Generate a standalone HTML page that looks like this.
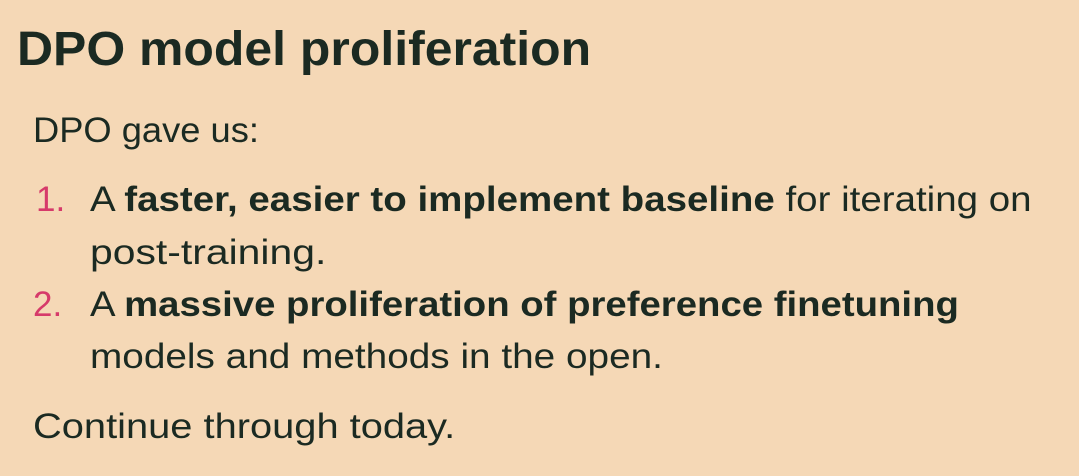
<!DOCTYPE html>
<html><head><meta charset="utf-8"><style>
html,body{margin:0;padding:0}
body{width:1079px;height:476px;background:#f5d8b6;font-family:"Liberation Sans",sans-serif;color:#1b2a22;position:relative;overflow:hidden}
.l{position:absolute;white-space:nowrap;font-size:35px;line-height:40px;transform-origin:0 50%}
b{font-weight:bold}
.n{color:#d63a6a}
</style></head><body>
<div class="l" style="left:17px;top:22px;font-size:48px;line-height:56px;font-weight:bold;transform:scaleX(1.04)">DPO model proliferation</div>
<div class="l" style="left:33px;top:111px;transform:scaleX(1.037)">DPO gave us:</div>
<div class="l" style="left:36px;top:180px;"><span class="n">1.</span></div>
<div class="l" style="left:90px;top:180px;transform:scaleX(1.10)">A <b>faster, easier to implement baseline</b> for iterating on</div>
<div class="l" style="left:90px;top:233px;transform:scaleX(1.168)">post-training.</div>
<div class="l" style="left:33px;top:285px;"><span class="n">2.</span></div>
<div class="l" style="left:90px;top:285px;transform:scaleX(1.095)">A <b>massive proliferation of preference finetuning</b></div>
<div class="l" style="left:90px;top:337px;transform:scaleX(1.107)">models and methods in the open.</div>
<div class="l" style="left:33px;top:407px;transform:scaleX(1.138)">Continue through today.</div>
</body></html>
